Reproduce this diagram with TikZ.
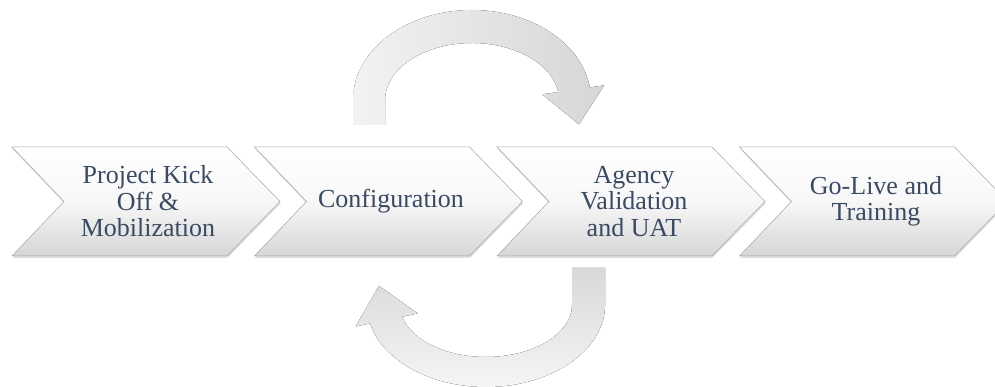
\documentclass[tikz,border=0pt]{standalone}
\usepackage{fontspec}
\setmainfont{Liberation Serif}
\usetikzlibrary{calc,shadows}
\definecolor{phaseink}{RGB}{59,74,99}
\definecolor{phaseedge}{RGB}{165,165,165}

\begin{document}
\begin{tikzpicture}[x=1pt, y=1pt,
    phase/.style={draw=phaseedge, line width=0.5pt,
                  top color=white, bottom color=black!16, middle color=black!3,
                  drop shadow={shadow xshift=0.5pt, shadow yshift=-2pt, opacity=0.25}},
    phaselabel/.style={text=phaseink, align=center, font=\fontsize{26}{26.5}\selectfont},
    cycletop/.style={left color=black!5, right color=black!16},
    cyclebot/.style={top color=black!15, bottom color=black!4}
]
    \fill[white] (0,0) rectangle (995,387);
    \useasboundingbox (0,0) rectangle (995,387);

    % four phase chevrons
    \foreach \i in {0,...,3} {
        \pgfmathsetmacro\xl{12+242.5*\i}
        \path[phase] (\xl,240) -- ++(215,0) -- ++(53,-54.5) -- ++(-53,-54.5)
            -- ++(-215,0) -- ++(52,54.5) -- cycle;
    }

    \node[phaselabel] (kickoff) at (148,185.5) {Project Kick\\Off \&\\Mobilization};
    \node[phaselabel] (config)  at (391,185.5) {Configuration};
    \node[phaselabel] (uat)     at (634,185.5) {Agency\\Validation\\and UAT};
    \node[phaselabel] (golive)  at (876,185.5) {Go-Live and\\Training};

    % iteration arrow above: band ends and head
    \coordinate (hub1) at (472,287);
    \coordinate (t-out) at ($(hub1)+(8:119 and 90)$);
    \coordinate (t-in)  at ($(hub1)+(8:87 and 57)$);
    \coordinate (t-mid) at ($(t-out)!0.5!(t-in)$);
    \fill[cycletop] (353,262) -- ($(hub1)+(180:119 and 90)$)
        arc[start angle=180, end angle=8, x radius=119, y radius=90]
        -- ($(t-out)!-0.45!(t-in)$) -- ($(t-mid)!35pt!90:(t-in)$) -- ($(t-in)!-0.5!(t-out)$)
        -- (t-in) arc[start angle=8, end angle=180, x radius=87, y radius=57]
        -- (385,262) -- cycle;

    % iteration arrow below
    \coordinate (hub2) at (486,82);
    \coordinate (b-out) at ($(hub2)+(-167:119 and 82)$);
    \coordinate (b-in)  at ($(hub2)+(-167:86 and 52)$);
    \coordinate (b-mid) at ($(b-out)!0.5!(b-in)$);
    \fill[cyclebot] (572,119) -- (605,119) -- ($(hub2)+(0:119 and 82)$)
        arc[start angle=0, end angle=-167, x radius=119, y radius=82]
        -- ($(b-out)!-0.45!(b-in)$) -- ($(b-mid)!35pt!90:(b-in)$) -- ($(b-in)!-0.48!(b-out)$)
        -- (b-in) arc[start angle=-167, end angle=0, x radius=86, y radius=52]
        -- cycle;
\end{tikzpicture}
\end{document}
